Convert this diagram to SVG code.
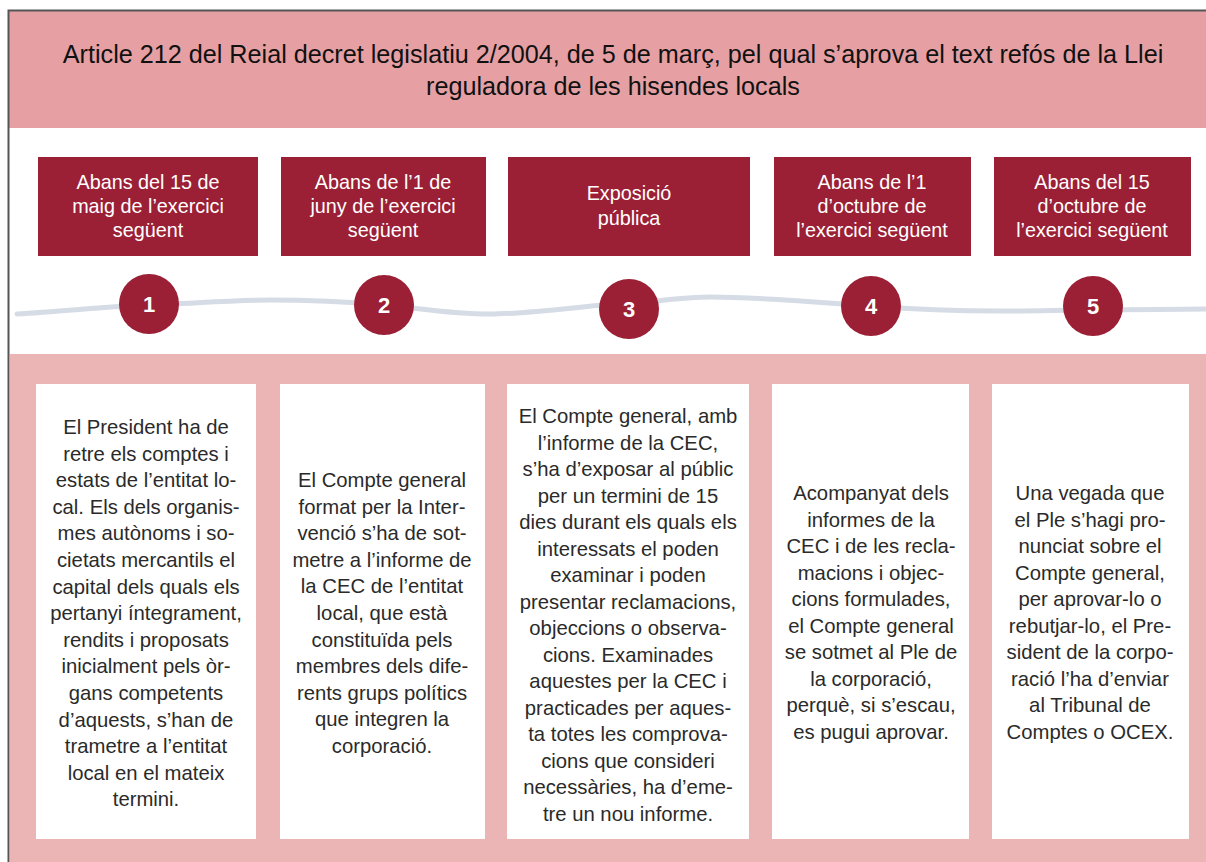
<svg xmlns="http://www.w3.org/2000/svg" width="1206" height="862" viewBox="0 0 1206 862">
<style>
.title{font-family:"Liberation Sans",Arial,sans-serif;font-size:25.2px;fill:#111;text-anchor:middle}
.hd{fill:#9B1F35}
.hdt{font-family:"Liberation Sans",Arial,sans-serif;font-size:19.8px;fill:#fff;text-anchor:middle}
.card{fill:#fff}
.ct{font-family:"Liberation Sans",Arial,sans-serif;font-size:20.3px;fill:#2a2a2a;text-anchor:middle}
.dot{fill:#9B1F35}
.num{font-family:"Liberation Sans",Arial,sans-serif;font-size:22px;font-weight:bold;fill:#fff;text-anchor:middle}
</style>
<rect x="0" y="0" width="1206" height="862" fill="#fff"/>
<rect x="8" y="11" width="1198" height="117" fill="#E6A0A3"/>
<rect x="10" y="354" width="1196" height="508" fill="#EBB5B6"/>
<path d="M8.5,862 V10.5 H1206" fill="none" stroke="#555" stroke-width="2"/>
<g id="title">
<text class="title" x="613" y="63">Article 212 del Reial decret legislatiu 2/2004, de 5 de març, pel qual s’aprova el text refós de la Llei</text>
<text class="title" x="613" y="95">reguladora de les hisendes locals</text>
</g>
<g id="connectors">
<path d="M17,314 C60,312 110,306 148,305 S230,300 270,300 S350,302 384,305 S450,314 490,314 S590,305 629,303 S680,297 710,297 S820,302 871,306 S960,311 1000,311 S1060,310 1093,310 S1170,309 1206,309" fill="none" stroke="#D5DCE5" stroke-width="5" stroke-linecap="round"/>
</g>
<g id="step1">
<rect class="hd" x="38" y="157" width="220" height="99"/>
<text class="hdt" x="148" y="189">Abans del 15 de</text>
<text class="hdt" x="148" y="213">maig de l’exercici</text>
<text class="hdt" x="148" y="237">següent</text>
<circle class="dot" cx="149" cy="304" r="30"/>
<text class="num" x="149" y="312">1</text>
<rect class="card" x="36" y="384" width="220" height="455"/>
<text class="ct" x="146" y="434">El President ha de</text>
<text class="ct" x="146" y="460.6">retre els comptes i</text>
<text class="ct" x="146" y="487.2">estats de l’entitat lo-</text>
<text class="ct" x="146" y="513.8">cal. Els dels organis-</text>
<text class="ct" x="146" y="540.4">mes autònoms i so-</text>
<text class="ct" x="146" y="567">cietats mercantils el</text>
<text class="ct" x="146" y="593.6">capital dels quals els</text>
<text class="ct" x="146" y="620.2">pertanyi íntegrament,</text>
<text class="ct" x="146" y="646.8">rendits i proposats</text>
<text class="ct" x="146" y="673.4">inicialment pels òr-</text>
<text class="ct" x="146" y="700">gans competents</text>
<text class="ct" x="146" y="726.6">d’aquests, s’han de</text>
<text class="ct" x="146" y="753.2">trametre a l’entitat</text>
<text class="ct" x="146" y="779.8">local en el mateix</text>
<text class="ct" x="146" y="806.4">termini.</text>
</g>
<g id="step2">
<rect class="hd" x="281" y="157" width="205" height="99"/>
<text class="hdt" x="383" y="189">Abans de l’1 de</text>
<text class="hdt" x="383" y="213">juny de l’exercici</text>
<text class="hdt" x="383" y="237">següent</text>
<circle class="dot" cx="384" cy="305" r="30"/>
<text class="num" x="384" y="313">2</text>
<rect class="card" x="280" y="384" width="205" height="455"/>
<text class="ct" x="382" y="487">El Compte general</text>
<text class="ct" x="382" y="513.6">format per la Inter-</text>
<text class="ct" x="382" y="540.2">venció s’ha de sot-</text>
<text class="ct" x="382" y="566.8">metre a l’informe de</text>
<text class="ct" x="382" y="593.4">la CEC de l’entitat</text>
<text class="ct" x="382" y="620">local, que està</text>
<text class="ct" x="382" y="646.6">constituïda pels</text>
<text class="ct" x="382" y="673.2">membres dels dife-</text>
<text class="ct" x="382" y="699.8">rents grups polítics</text>
<text class="ct" x="382" y="726.4">que integren la</text>
<text class="ct" x="382" y="753">corporació.</text>
</g>
<g id="step3">
<rect class="hd" x="508" y="157" width="242" height="99"/>
<text class="hdt" x="629" y="200">Exposició</text>
<text class="hdt" x="629" y="225">pública</text>
<circle class="dot" cx="629" cy="309" r="30"/>
<text class="num" x="629" y="317">3</text>
<rect class="card" x="507" y="384" width="242" height="455"/>
<text class="ct" x="628" y="423">El Compte general, amb</text>
<text class="ct" x="628" y="449.5">l’informe de la CEC,</text>
<text class="ct" x="628" y="476">s’ha d’exposar al públic</text>
<text class="ct" x="628" y="502.5">per un termini de 15</text>
<text class="ct" x="628" y="529">dies durant els quals els</text>
<text class="ct" x="628" y="555.5">interessats el poden</text>
<text class="ct" x="628" y="582">examinar i poden</text>
<text class="ct" x="628" y="608.5">presentar reclamacions,</text>
<text class="ct" x="628" y="635">objeccions o observa-</text>
<text class="ct" x="628" y="661.5">cions. Examinades</text>
<text class="ct" x="628" y="688">aquestes per la CEC i</text>
<text class="ct" x="628" y="714.5">practicades per aques-</text>
<text class="ct" x="628" y="741">ta totes les comprova-</text>
<text class="ct" x="628" y="767.5">cions que consideri</text>
<text class="ct" x="628" y="794">necessàries, ha d’eme-</text>
<text class="ct" x="628" y="820.5">tre un nou informe.</text>
</g>
<g id="step4">
<rect class="hd" x="774" y="157" width="197" height="99"/>
<text class="hdt" x="872" y="189">Abans de l’1</text>
<text class="hdt" x="872" y="213">d’octubre de</text>
<text class="hdt" x="872" y="237">l’exercici següent</text>
<circle class="dot" cx="871" cy="306" r="30"/>
<text class="num" x="871" y="314">4</text>
<rect class="card" x="772" y="384" width="197" height="455"/>
<text class="ct" x="871" y="500">Acompanyat dels</text>
<text class="ct" x="871" y="526.5">informes de la</text>
<text class="ct" x="871" y="553">CEC i de les recla-</text>
<text class="ct" x="871" y="579.5">macions i objec-</text>
<text class="ct" x="871" y="606">cions formulades,</text>
<text class="ct" x="871" y="632.5">el Compte general</text>
<text class="ct" x="871" y="659">se sotmet al Ple de</text>
<text class="ct" x="871" y="685.5">la corporació,</text>
<text class="ct" x="871" y="712">perquè, si s’escau,</text>
<text class="ct" x="871" y="738.5">es pugui aprovar.</text>
</g>
<g id="step5">
<rect class="hd" x="994" y="157" width="197" height="99"/>
<text class="hdt" x="1092" y="189">Abans del 15</text>
<text class="hdt" x="1092" y="213">d’octubre de</text>
<text class="hdt" x="1092" y="237">l’exercici següent</text>
<circle class="dot" cx="1093" cy="306" r="30"/>
<text class="num" x="1093" y="314">5</text>
<rect class="card" x="992" y="384" width="197" height="455"/>
<text class="ct" x="1090" y="500">Una vegada que</text>
<text class="ct" x="1090" y="526.5">el Ple s’hagi pro-</text>
<text class="ct" x="1090" y="553">nunciat sobre el</text>
<text class="ct" x="1090" y="579.5">Compte general,</text>
<text class="ct" x="1090" y="606">per aprovar-lo o</text>
<text class="ct" x="1090" y="632.5">rebutjar-lo, el Pre-</text>
<text class="ct" x="1090" y="659">sident de la corpo-</text>
<text class="ct" x="1090" y="685.5">ració l’ha d’enviar</text>
<text class="ct" x="1090" y="712">al Tribunal de</text>
<text class="ct" x="1090" y="738.5">Comptes o OCEX.</text>
</g>
</svg>
